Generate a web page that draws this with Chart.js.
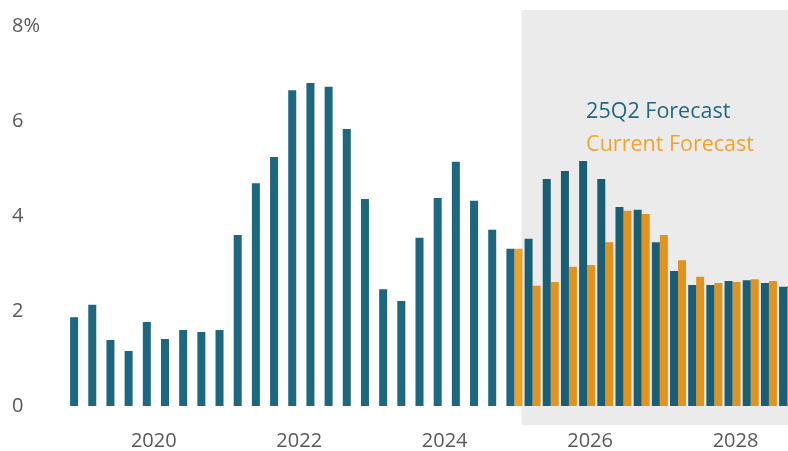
<!DOCTYPE html>
<html><head><meta charset="utf-8">
<script src="https://cdn.jsdelivr.net/npm/chart.js@4/dist/chart.umd.min.js"></script>
<style>
html,body{margin:0;padding:0;background:#fff;overflow:hidden;}
#c{display:block;}
</style></head><body>
<canvas id="c" width="788" height="451" style="width:788px;height:451px"></canvas>
<script>
const quarters = [
  '2019Q1','2019Q2','2019Q3','2019Q4',
  '2020Q1','2020Q2','2020Q3','2020Q4',
  '2021Q1','2021Q2','2021Q3','2021Q4',
  '2022Q1','2022Q2','2022Q3','2022Q4',
  '2023Q1','2023Q2','2023Q3','2023Q4',
  '2024Q1','2024Q2','2024Q3','2024Q4',
  '2025Q1','2025Q2','2025Q3','2025Q4',
  '2026Q1','2026Q2','2026Q3','2026Q4',
  '2027Q1','2027Q2','2027Q3','2027Q4',
  '2028Q1','2028Q2','2028Q3','2028Q4'
];
const yearTickLabels = ['2020','2022','2024','2026','2028'];
const yTickValues = [0, 2, 4, 6, 8];

// Actuals through 2024Q4, then the 25Q2 forecast
const forecast25Q2 = [
  1.87, 2.13, 1.39, 1.16,
  1.77, 1.41, 1.60, 1.56,
  1.60, 3.60, 4.69, 5.24,
  6.65, 6.80, 6.72, 5.83,
  4.36, 2.46, 2.21, 3.54,
  4.38, 5.14, 4.32, 3.71,
  3.31, 3.52, 4.78, 4.95,
  5.16, 4.78, 4.19, 4.13,
  3.45, 2.84, 2.55, 2.55,
  2.63, 2.65, 2.59, 2.51
];
const currentForecast = [
  null, null, null, null,
  null, null, null, null,
  null, null, null, null,
  null, null, null, null,
  null, null, null, null,
  null, null, null, null,
  3.31, 2.53, 2.61, 2.93,
  2.97, 3.45, 4.11, 4.04,
  3.60, 3.07, 2.72, 2.59,
  2.61, 2.67, 2.63, 2.53
];
const forecastStart = '2025Q1';
const seriesNames = ['25Q2 Forecast', 'Current Forecast'];

const TEAL = '#1d6780';
const ORANGE = '#f5a01f';
const TICK = '#595959';
const FONT = "'Open Sans', sans-serif";
// the original picture is cropped: the last ~0.45 category lies past the right edge
const CROPPED_CATEGORIES = 0.45;

const extendArea = {
  id: 'extendArea',
  afterLayout(chart) {
    const x = chart.scales.x;
    const n = quarters.length;
    const w = (chart.width - x.left) / (n - CROPPED_CATEGORIES);
    x.right = x.left + w * n;
    x.width = x.right - x.left;
    x.configure();
    chart.chartArea.right = x.right;
    chart.chartArea.width = x.right - chart.chartArea.left;
  }
};

const overlay = {
  id: 'overlay',
  afterDatasetsDraw(chart) {
    const {ctx, chartArea, scales: {x, y}} = chart;
    const i = quarters.indexOf(forecastStart);
    const w = x.getPixelForValue(1) - x.getPixelForValue(0);
    const left = x.getPixelForValue(i) + w * 0.39;
    const top = chartArea.top - 16;
    const bottom = chartArea.bottom + 19;
    ctx.save();
    ctx.fillStyle = 'rgba(0,0,0,0.078)';
    ctx.fillRect(left, top, chart.width - left, bottom - top);
    ctx.font = "21.5px " + FONT;
    ctx.textBaseline = 'middle';
    ctx.textAlign = 'left';
    const tx = x.getPixelForValue(quarters.indexOf('2026Q1')) - 1;
    ctx.fillStyle = '#22667f';
    ctx.fillText(seriesNames[0], tx, y.getPixelForValue(6.2));
    ctx.fillStyle = '#f4a12a';
    ctx.fillText(seriesNames[1], tx, y.getPixelForValue(5.5));
    ctx.restore();
  }
};

new Chart(document.getElementById('c'), {
  type: 'bar',
  data: {
    labels: quarters,
    datasets: [
      {label: seriesNames[0], data: forecast25Q2, backgroundColor: TEAL,
       categoryPercentage: 0.88, barPercentage: 1.0},
      {label: seriesNames[1], data: currentForecast, backgroundColor: ORANGE,
       categoryPercentage: 0.88, barPercentage: 1.0}
    ]
  },
  options: {
    responsive: false,
    animation: false,
    events: [],
    devicePixelRatio: 1,
    layout: {padding: {left: 12, right: 0, top: 26, bottom: 0}},
    plugins: {legend: {display: false}, tooltip: {enabled: false}},
    scales: {
      x: {
        grid: {display: false, drawTicks: false},
        border: {display: false},
        ticks: {
          autoSkip: false, maxRotation: 0, minRotation: 0,
          padding: 23, labelOffset: 3,
          color: TICK, font: {family: FONT, size: 20},
          callback: function(v) {
            const q = quarters[v];
            const yr = q.slice(0, 4);
            return (q.endsWith('Q1') && yearTickLabels.includes(yr)) ? yr : '';
          }
        },
        afterFit(s) { s.height = 45; }
      },
      y: {
        min: 0, max: 8,
        grid: {display: false, drawTicks: false},
        border: {display: false},
        afterBuildTicks(s) { s.ticks = yTickValues.map(v => ({value: v})); },
        ticks: {
          crossAlign: 'far', padding: 0,
          color: TICK, font: {family: FONT, size: 20},
          callback: v => v === 8 ? '8%' : String(v)
        },
        afterFit(s) { s.width = 57; }
      }
    }
  },
  plugins: [extendArea, overlay]
});
</script>
</body></html>
